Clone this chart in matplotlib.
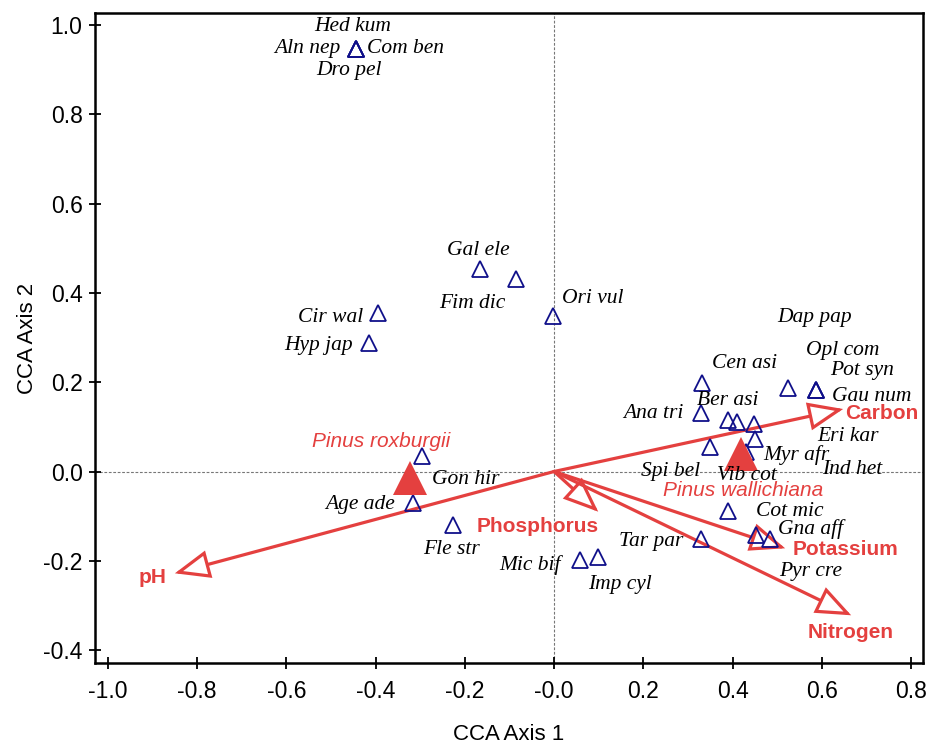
import matplotlib
matplotlib.use("Agg")
import matplotlib.pyplot as plt
from matplotlib.patches import FancyArrowPatch

# ---------------- data ----------------
species = ["Hed kum", "Aln nep", "Com ben", "Dro pel", "Gal ele", "Fim dic", "Ori vul",
           "Cir wal", "Hyp jap", "Gon hir", "Age ade", "Fle str", "Mic bif", "Imp cyl",
           "Tar par", "Cot mic", "Gna aff", "Pyr cre", "Cen asi", "Ana tri", "Ber asi",
           "Eri kar", "Ind het", "Myr afr", "Spi bel", "Vib cot", "Dap pap", "Opl com",
           "Pot syn", "Gau num"]
sp_x = [-0.444, -0.444, -0.444, -0.444, -0.166, -0.085, -0.002,
        -0.395, -0.415, -0.296, -0.316, -0.226, 0.058, 0.099,
        0.330, 0.390, 0.453, 0.484, 0.332, 0.330, 0.390,
        0.410, 0.448, 0.451, 0.350, 0.431, 0.525, 0.587,
        0.587, 0.587]
sp_y = [0.946, 0.946, 0.946, 0.946, 0.453, 0.431, 0.348,
        0.355, 0.288, 0.035, -0.071, -0.120, -0.198, -0.192,
        -0.151, -0.089, -0.142, -0.151, 0.198, 0.131, 0.115,
        0.111, 0.106, 0.072, 0.055, 0.043, 0.187, 0.183,
        0.183, 0.183]
# label anchor positions (CANOCO-style label scores)
lab_x = [-0.451, -0.554, -0.332, -0.460, -0.170, -0.184, 0.087,
         -0.500, -0.529, -0.197, -0.435, -0.229, -0.054, 0.148,
         0.217, 0.529, 0.576, 0.574, 0.426, 0.222, 0.390,
         0.659, 0.668, 0.543, 0.262, 0.433, 0.583, 0.648,
         0.691, 0.713]
lab_y = [0.996, 0.948, 0.948, 0.899, 0.496, 0.377, 0.388,
         0.345, 0.282, -0.019, -0.075, -0.174, -0.210, -0.254,
         -0.156, -0.089, -0.129, -0.223, 0.241, 0.129, 0.158,
         0.079, 0.005, 0.037, -0.001, -0.008, 0.344, 0.272,
         0.227, 0.169]

sites = ["Pinus roxburgii", "Pinus wallichiana"]
site_x = [-0.322, 0.419]
site_y = [-0.014, 0.039]
site_lab_x = [-0.388, 0.424]
site_lab_y = [0.068, -0.042]

env = ["Carbon", "pH", "Phosphorus", "Potassium", "Nitrogen"]
env_x = [0.648, -0.850, 0.099, 0.518, 0.666]
env_y = [0.140, -0.228, -0.090, -0.172, -0.322]
env_lab_x = [0.652, -0.901, -0.036, 0.653, 0.664]
env_lab_y = [0.131, -0.237, -0.124, -0.174, -0.360]
env_ha = ["left", "center", "center", "center", "center"]

xticks = [-1.0, -0.8, -0.6, -0.4, -0.2, 0.0, 0.2, 0.4, 0.6, 0.8]
xtick_labels = ["-1.0", "-0.8", "-0.6", "-0.4", "-0.2", "-0.0", "0.2", "0.4", "0.6", "0.8"]
yticks = [-0.4, -0.2, 0.0, 0.2, 0.4, 0.6, 0.8, 1.0]
ytick_labels = ["-0.4", "-0.2", "0.0", "0.2", "0.4", "0.6", "0.8", "1.0"]

# ---------------- style ----------------
RED = "#e4403f"
NAVY = "#10108a"
SANS = ["Liberation Sans", "DejaVu Sans"]
SERIF = ["Liberation Serif", "DejaVu Serif"]

fig = plt.figure(figsize=(9.28, 7.45), dpi=100)
ax = fig.add_axes([0.1024, 0.110, 0.8922, 0.8726])
ax.set_xlim(-1.029, 0.827)
ax.set_ylim(-0.429, 1.027)

ax.axhline(0, color="#777777", lw=0.8, ls=(0, (2.5, 1.5)), zorder=1)
ax.axvline(0, color="#777777", lw=0.8, ls=(0, (2.5, 1.5)), zorder=1)

# environmental arrows
for ex, ey in zip(env_x, env_y):
    arr = FancyArrowPatch((0, 0), (ex, ey),
                          arrowstyle="-|>,head_length=21,head_width=8.5",
                          mutation_scale=1, shrinkA=0, shrinkB=0,
                          lw=2.3, color=RED, fc="white", ec=RED,
                          joinstyle="miter", zorder=3)
    ax.add_patch(arr)
for name, lx, ly, ha in zip(env, env_lab_x, env_lab_y, env_ha):
    ax.text(lx, ly, name, color=RED, fontsize=15, fontweight="bold",
            family=SANS, ha=ha, va="center", zorder=5)

# species
ax.plot(sp_x, sp_y, ls="none", marker="^", ms=12, mfc="none", mec=NAVY,
        mew=1.3, zorder=4)
for name, lx, ly in zip(species, lab_x, lab_y):
    ax.text(lx, ly, name, fontsize=15.5, style="italic", family=SERIF,
            ha="center", va="center", color="black", zorder=5)

# sites
ax.plot(site_x, site_y, ls="none", marker="^", ms=24, mfc=RED, mec=RED,
        mew=0, zorder=4)
for name, lx, ly in zip(sites, site_lab_x, site_lab_y):
    ax.text(lx, ly, name, color=RED, fontsize=15, style="italic",
            family=SANS, ha="center", va="center", zorder=5)

ax.set_xticks(xticks)
ax.set_xticklabels(xtick_labels)
ax.set_yticks(yticks)
ax.set_yticklabels(ytick_labels)
ax.tick_params(direction="inout", length=8, width=1.3, labelsize=16.5)
for lbl in ax.get_xticklabels() + ax.get_yticklabels():
    lbl.set_family(SANS)
ax.tick_params(axis="x", pad=8)
ax.tick_params(axis="y", pad=5)
for sp in ax.spines.values():
    sp.set_linewidth(1.8)

ax.set_xlabel("CCA Axis 1", fontsize=16, family=SANS, labelpad=15)
ax.set_ylabel("CCA Axis 2", fontsize=16, family=SANS, labelpad=4)

fig.savefig("out.png", dpi=100)
